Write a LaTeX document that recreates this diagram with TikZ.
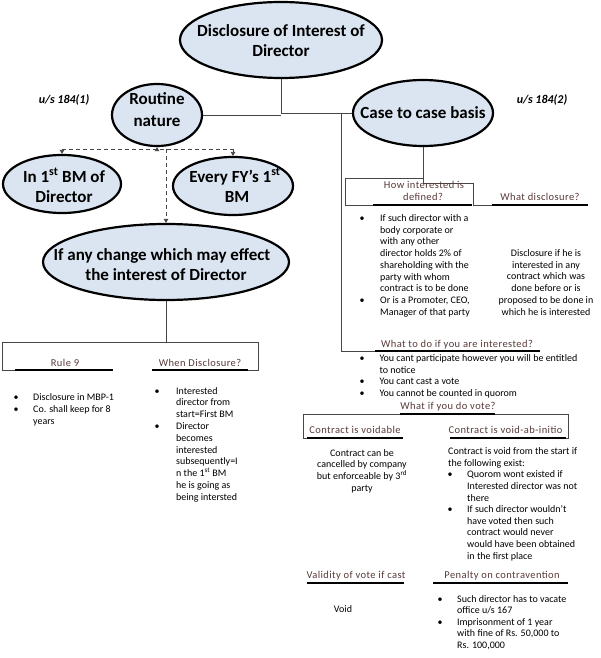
\documentclass[tikz,border=0pt]{standalone}
\usepackage{fontspec}
\setmainfont{Carlito}
\newfontfamily\hdfont{Carlito}[LetterSpace=4]
\usetikzlibrary{arrows.meta,shapes.geometric}
\definecolor{efill}{RGB}{219,229,241}
\definecolor{hdr}{RGB}{89,58,58}
\definecolor{lnc}{RGB}{70,70,70}
\tikzset{
 ell/.style={ellipse, draw=black, line width=2.2pt, fill=efill, inner sep=0pt},
 ttl/.style={font=\fontsize{17}{20}\selectfont\bfseries, anchor=base, inner sep=0pt},
 hd/.style={font=\hdfont\fontsize{10.5}{12}\selectfont, text=hdr, anchor=base, inner sep=0pt},
 bd/.style={font=\fontsize{10}{12}\selectfont, anchor=base west, inner sep=0pt},
 bdc/.style={font=\fontsize{10}{12}\selectfont, anchor=base, inner sep=0pt},
 ul/.style={line width=2.6pt, line cap=butt},
 conn/.style={draw=lnc, line width=0.9pt},
 dsh/.style={draw=lnc, line width=0.8pt, dash pattern=on 4pt off 3pt},
 tip/.style={-{Triangle[length=4pt,width=4.5pt]}},
 us/.style={font=\fontsize{12}{14}\selectfont\bfseries\itshape, inner sep=0pt}
}
\newcommand\tlines[5]{\foreach \t [count=\i from 0] in {#5}{\node[bd] (#1-\i) at ({#2},{#3+\i*#4}) {\t};}}
\newcommand\clines[5]{\foreach \t [count=\i from 0] in {#5}{\node[bdc] (#1-\i) at ({#2},{#3+\i*#4}) {\t};}}
\newcommand\bul[3]{\node[bdc] (#1) at (#2,#3) {•};}
\begin{document}
\begin{tikzpicture}[x=1pt,y=-1pt]
\fill[white] (0,0) rectangle (600,658);
\useasboundingbox (0,0) rectangle (600,658);

% ---------- ellipses ----------
\node[ell, minimum width=202pt, minimum height=76pt] (top) at (281,40) {};
\node[ell, minimum width=90pt, minimum height=62pt] (routine) at (157,115) {};
\node[ell, minimum width=140pt, minimum height=66pt] (case) at (423,113) {};
\node[ell, minimum width=118pt, minimum height=58pt] (first) at (62,184) {};
\node[ell, minimum width=120pt, minimum height=58pt] (every) at (233,186) {};
\node[ell, minimum width=246pt, minimum height=76pt] (change) at (166,262) {};

\node[ttl] (top-a) at (281,37) {Disclosure of Interest of};
\node[ttl] (top-b) at (281,57) {Director};
\node[ttl] (rout-a) at (157,105) {Routine};
\node[ttl] (rout-b) at (157,126) {nature};
\node[ttl] (case-a) at (423,118) {Case to case basis};
\node[ttl] (first-a) at (64,182) {In 1\textsuperscript{st} BM of};
\node[ttl] (first-b) at (64,202) {Director};
\node[ttl] (every-a) at (235,182) {Every FY’s 1\textsuperscript{st}};
\node[ttl] (every-b) at (237,202) {BM};
\node[ttl] (chg-a) at (162,260) {If any change which may effect};
\node[ttl] (chg-b) at (166,280) {the interest of Director};

\node[us] (us1) at (64,100) {u/s 184(1)};
\node[us] (us2) at (542,100) {u/s 184(2)};

% ---------- connectors top ----------
\draw[conn] (top.south) |- (case.west);
\draw[conn] (routine.east) -- (routine.east -| top.south);
\coordinate (j1) at (341,113);
\coordinate (wtd-l) at (375,351);
\coordinate (wtd-r) at (540,351);
\draw[conn] (j1) |- (wtd-l);

% dashed
\coordinate (dl) at (62,149);
\coordinate (dr) at (233,149);
\coordinate (dm) at (166,149);
\coordinate (d0) at (157,150);
\draw[dsh] (dl) -- (dr);
\draw[dsh,tip] (d0) -- (routine.south);
\draw[dsh,tip] (dl) -- (first.north);
\draw[dsh,tip] (dr) -- (every.north);
\draw[dsh,tip] (dm) -- (change.north);

% ---------- case branch ----------
\coordinate (how-l) at (373,205);
\coordinate (how-r) at (472,205);
\coordinate (wd-l) at (492,205);
\coordinate (wd-r) at (588,205);
\coordinate (cj) at (423,183);
\coordinate (k1) at (473,183);
\coordinate (k2) at (345,178);
\draw[conn] (case.south) -- (cj) -- (k1) |- (wd-l);
\draw[conn] (case.south |- k2) -- (k2) |- (how-l);
\draw[ul] (how-l) -- (how-r);
\draw[ul] (wd-l) -- (wd-r);
\draw[ul] (wtd-l) -- (wtd-r);

\node[hd] (how-a) at (424,188.5) {How interested is};
\node[hd] (how-b) at (423,200.5) {defined?};
\node[hd] (wd) at (540,200.5) {What disclosure?};
\node[hd] (wtd) at (457,347.5) {What to do if you are interested?};

\bul{hb1}{362}{221.5}
\bul{hb2}{362}{303.4}
\tlines{how}{380}{221.5}{11.7}{If such director with a,body corporate or,with any other,director holds 2\% of,shareholding with the,party with whom,contract is to be done,{Or is a Promoter, CEO,},Manager of that party}
\clines{wdt}{546}{256.5}{11.7}{Disclosure if he is,interested in any,contract which was,done before or is,proposed to be done in,which he is interested}

\bul{wb1}{362}{361.5}
\bul{wb2}{362}{384.5}
\bul{wb3}{362}{396}
\tlines{wtdt}{379.3}{361.5}{11.5}{You cant participate however you will be entitled,to notice,You cant cast a vote,You cannot be counted in quorom}

% ---------- vote ----------
\coordinate (v-l) at (400,414);
\coordinate (v-r) at (495,414);
\coordinate (k5) at (303,414);
\coordinate (k6) at (568,414);
\coordinate (vb-l) at (307,438);
\coordinate (vb-r) at (403,438);
\coordinate (va-l) at (450,438);
\coordinate (va-r) at (566,438);
\draw[conn] (k5) -- (k6);
\draw[conn] (k5) |- (vb-l);
\draw[conn] (k6) |- (va-r);
\draw[ul] (v-l) -- (v-r);
\draw[ul] (vb-l) -- (vb-r);
\draw[ul] (va-l) -- (va-r);
\node[hd] (vote) at (448,409.5) {What if you do vote?};
\node[hd] (vbl) at (355,433) {Contract is voidable};
\node[hd] (vab) at (505.5,433) {Contract is void-ab-initio};

\clines{vblt}{362}{456}{11.7}{Contract can be,cancelled by company,but enforceable by 3\textsuperscript{rd},party}
\tlines{vabp}{448}{454.7}{11.6}{Contract is void from the start if,the following exist:}
\bul{vb1}{450}{477.9}
\bul{vb2}{450}{512.7}
\tlines{vabt}{467}{477.9}{11.6}{Quorom wont existed if,Interested director was not,there,If such director wouldn’t,have voted then such,contract would never,would have been obtained,in the first place}

% ---------- validity / penalty ----------
\coordinate (val-l) at (307,583);
\coordinate (val-r) at (404,583);
\coordinate (pen-l) at (433,583);
\coordinate (pen-r) at (568,583);
\draw[ul] (val-l) -- (val-r);
\draw[ul] (pen-l) -- (pen-r);
\node[hd] (val) at (356,578.5) {Validity of vote if cast};
\node[hd] (pen) at (502,578.5) {Penalty on contravention};
\node[bdc] (void) at (343,612) {Void};
\bul{pb1}{440}{602}
\bul{pb2}{440}{625.2}
\tlines{pent}{457}{602}{11.6}{Such director has to vacate,office u/s 167,Imprisonment of 1 year,{with fine of Rs. 50,000 to},{Rs. 100,000}}

% ---------- left bottom ----------
\coordinate (cb) at (166,342);
\coordinate (k3) at (2,342);
\coordinate (k4) at (258,342);
\coordinate (r9-l) at (15,370);
\coordinate (r9-r) at (113,370);
\coordinate (wh-l) at (152,370);
\coordinate (wh-r) at (248,370);
\draw[conn] (change.south) -- (cb);
\draw[conn] (k4) -- (k3) |- (r9-l);
\draw[conn] (k4) |- (wh-r);
\draw[ul] (r9-l) -- (r9-r);
\draw[ul] (wh-l) -- (wh-r);
\node[hd] (r9) at (65,366.5) {Rule 9};
\node[hd] (wh) at (200,366.5) {When Disclosure?};

\bul{rb1}{16}{400}
\bul{rb2}{16}{412.4}
\tlines{r9t}{33}{400}{12.4}{Disclosure in MBP-1,Co. shall keep for 8,years}
\bul{whb1}{157}{394}
\bul{whb2}{157}{429.4}
\tlines{wht}{176}{394}{11.8}{Interested,director from,start=First BM,Director,becomes,interested,subsequently=I,n the 1\textsuperscript{st} BM,he is going as,being intersted}
\end{tikzpicture}
\end{document}
